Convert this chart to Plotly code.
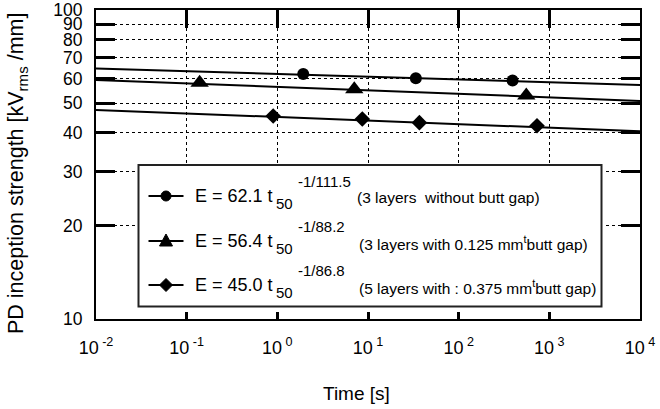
import plotly.graph_objects as go

# ---------------- data ----------------
t_circle = [1.93, 33.7, 393]
E_circle = [62.1, 60.1, 59.1]

t_tri = [0.139, 7.06, 557]
E_tri = [58.1, 55.4, 52.9]

t_dia = [0.90, 8.65, 36.9, 731]
E_dia = [45.4, 44.4, 43.2, 42.2]

fit_t = [0.01, 10000]
fit_circle = [64.7, 57.2]
fit_tri = [59.4, 50.8]
fit_dia = [47.5, 40.5]

x_tickvals = [1e-2, 1e-1, 1e0, 1e1, 1e2, 1e3, 1e4]
x_ticktext = ["10<sup> -2</sup>", "10<sup> -1</sup>", "10<sup> 0</sup>", "10<sup> 1</sup>",
              "10<sup> 2</sup>", "10<sup> 3</sup>", "10<sup> 4</sup>"]
y_tickvals = [10, 20, 30, 40, 50, 60, 70, 80, 90, 100]
y_ticktext = ["10", "20", "30", "40", "50", "60", "70", "80", "90", "100"]

leg_main = ["E = 62.1 t", "E = 56.4 t", "E = 45.0 t"]
leg_sub = ["50", "50", "50"]
leg_sup = ["-1/111.5", "-1/88.2", "-1/86.8"]
leg_desc = ["(3 layers  without butt gap)",
            "(3 layers with 0.125 mm<sup>t</sup>butt gap)",
            "(5 layers with : 0.375 mm<sup>t</sup>butt gap)"]

# ---------------- layout geometry ----------------
W, H = 660, 409
ML, MR, MT, MB = 96, 20, 10, 90
PW, PH = W - ML - MR, H - MT - MB


def px(x):
    return (x - ML) / PW


def py(y):
    return (H - MB - y) / PH


FONT = "Liberation Sans, Arial, Helvetica, sans-serif"

fig = go.Figure()

for ft in (fit_circle, fit_tri, fit_dia):
    fig.add_trace(go.Scatter(x=fit_t, y=ft, mode="lines",
                             line=dict(color="black", width=2), showlegend=False,
                             hoverinfo="skip"))

fig.add_trace(go.Scatter(x=t_circle, y=E_circle, mode="markers",
                         marker=dict(symbol="circle", size=12, color="black"),
                         showlegend=False))
fig.add_trace(go.Scatter(x=t_tri, y=E_tri, mode="markers",
                         marker=dict(symbol="triangle-up", size=16, color="black"),
                         showlegend=False))
fig.add_trace(go.Scatter(x=t_dia, y=E_dia, mode="markers",
                         marker=dict(symbol="diamond", size=12, color="black"),
                         showlegend=False))

shapes = []
# legend box (covers grid and ticks)
shapes.append(dict(type="rect", xref="paper", yref="paper", layer="above",
                   x0=px(136), x1=px(604), y0=py(312), y1=py(163),
                   fillcolor="white", line=dict(width=0)))
shapes.append(dict(type="rect", xref="paper", yref="paper", layer="above",
                   x0=px(138.5), x1=px(601.5), y0=py(306.5), y1=py(165),
                   fillcolor="rgba(0,0,0,0)", line=dict(color="#222", width=2)))

rows = [196, 241, 285]
for i, ry in enumerate(rows):
    shapes.append(dict(type="line", xref="paper", yref="paper", layer="above",
                       x0=px(148.5), x1=px(183.5), y0=py(ry), y1=py(ry),
                       line=dict(color="black", width=2)))
    base = dict(xref="paper", yref="paper", layer="above",
                xsizemode="pixel", ysizemode="pixel",
                xanchor=px(166), yanchor=py(ry),
                fillcolor="black", line=dict(color="black", width=1))
    if i == 0:
        shapes.append(dict(base, type="circle", x0=-5, x1=5, y0=-5, y1=5))
    elif i == 1:
        shapes.append(dict(base, type="path", path="M -6.5,-5 L 6.5,-5 L 0,7 Z"))
    else:
        shapes.append(dict(base, type="path", path="M -6.5,0 L 0,6.5 L 6.5,0 L 0,-6.5 Z"))

annotations = []
desc_x = [355, 356.5, 356.5]
for i, ry in enumerate(rows):
    annotations.append(dict(text=leg_main[i], x=px(193), y=py(ry), xref="paper", yref="paper",
                            xanchor="left", yanchor="middle", showarrow=False,
                            font=dict(family=FONT, size=18, color="black")))
    annotations.append(dict(text=leg_sub[i], x=px(274), y=py(ry + 7), xref="paper", yref="paper",
                            xanchor="left", yanchor="middle", showarrow=False,
                            font=dict(family=FONT, size=15, color="black")))
    annotations.append(dict(text=leg_sup[i], x=px(295.5), y=py(ry - 14.5), xref="paper", yref="paper",
                            xanchor="left", yanchor="middle", showarrow=False,
                            font=dict(family=FONT, size=15, color="black")))
    annotations.append(dict(text=leg_desc[i], x=px(desc_x[i]), y=py(ry + 1.5), xref="paper", yref="paper",
                            xanchor="left", yanchor="middle", showarrow=False,
                            font=dict(family=FONT, size=15.5, color="black")))

# axis titles
annotations.append(dict(text="Time [s]", x=px(356), y=py(393), xref="paper", yref="paper",
                        xanchor="center", yanchor="middle", showarrow=False,
                        font=dict(family=FONT, size=19, color="black")))
annotations.append(dict(text="PD inception strength [kV<sub>rms</sub> /mm]", x=px(17.5), y=py(173.5),
                        xref="paper", yref="paper", textangle=-90,
                        xanchor="center", yanchor="middle", showarrow=False,
                        font=dict(family=FONT, size=21.5, color="black")))

fig.update_layout(
    width=W, height=H,
    margin=dict(l=ML, r=MR, t=MT, b=MB, autoexpand=False),
    paper_bgcolor="white", plot_bgcolor="white",
    font=dict(family=FONT, size=18, color="black"),
    showlegend=False,
    shapes=shapes, annotations=annotations,
    xaxis=dict(type="log", range=[-2, 4], tickvals=x_tickvals, ticktext=x_ticktext,
               ticks="inside", ticklen=18, tickwidth=2.5, tickcolor="black",
               showline=True, linewidth=2, linecolor="black", mirror="ticks",
               showgrid=True, gridcolor="black", gridwidth=1, griddash="3px,3px",
               zeroline=False, tickfont=dict(family=FONT, size=18, color="black"),
               ticklabelstandoff=11),
    yaxis=dict(type="log", range=[1, 2], tickvals=y_tickvals, ticktext=y_ticktext,
               ticks="inside", ticklen=19, tickwidth=3, tickcolor="black",
               showline=True, linewidth=2, linecolor="black", mirror="ticks",
               showgrid=True, gridcolor="black", gridwidth=1, griddash="3px,3px",
               zeroline=False, tickfont=dict(family=FONT, size=17.5, color="black"),
               ticklabelstandoff=8),
)

fig.write_html("out.html", config={"displayModeBar": False},
               post_script="document.body.style.margin='0px';document.body.style.overflow='hidden';")
